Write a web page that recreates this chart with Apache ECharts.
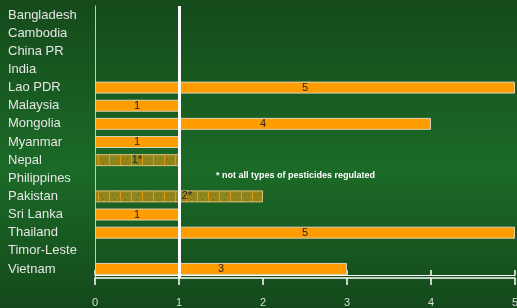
<!DOCTYPE html>
<html>
<head>
<meta charset="utf-8">
<script src="https://cdn.jsdelivr.net/npm/echarts@6/dist/echarts.min.js"></script>
<style>
html, body { margin: 0; padding: 0; }
#chart1 { width: 517px; height: 308px; }
</style>
</head>
<body>
<div id="chart1"></div>
<script>
var countries = ['Bangladesh', 'Cambodia', 'China PR', 'India', 'Lao PDR', 'Malaysia', 'Mongolia',
    'Myanmar', 'Nepal', 'Philippines', 'Pakistan', 'Sri Lanka', 'Thailand', 'Timor-Leste', 'Vietnam'];
// 全部类型农药受管制
var fullValues = [null, null, null, null, 5, 1, 4, 1, null, null, null, 1, 5, null, 3];
// 部分类型农药受管制 (*)
var partValues = [null, null, null, null, null, null, null, null, 1, null, 2, null, null, null, null];
var xTicks = [0, 1, 2, 3, 4, 5];
var noteText = '* not all types of pesticides regulated';

// 斜纹填充图案
function makePattern() {
    var c = document.createElement('canvas');
    c.width = 11; c.height = 12;
    var ctx = c.getContext('2d');
    ctx.fillStyle = '#94861c';
    ctx.fillRect(0, 0, 11, 12);
    ctx.fillStyle = '#e09812';
    ctx.fillRect(10, 0, 1, 12);
    ctx.fillStyle = '#3f7a2a';
    ctx.fillRect(2, 3, 1, 1);
    ctx.fillRect(6, 2, 1, 1);
    ctx.fillRect(4, 7, 1, 1);
    ctx.fillRect(8, 9, 1, 1);
    ctx.fillRect(1, 10, 1, 1);
    return c;
}

var labelText = function (suffix) {
    return function (p) { return p.value == null ? '' : p.value + suffix; };
};

var option = {
    backgroundColor: new echarts.graphic.LinearGradient(0, 0, 0, 1, [
        { offset: 0, color: '#154a1b' },
        { offset: 0.55, color: '#1b6a27' },
        { offset: 1, color: '#14491b' }
    ]),
    animation: false,
    grid: { left: 95, right: 2, top: 6, bottom: 30, outerBoundsMode: 'none', containLabel: false },
    graphic: [{
        type: 'text',
        left: 216,
        top: 171,
        style: {
            text: noteText,
            fill: '#ffffff',
            font: 'bold 9px "Liberation Sans", Arial, sans-serif'
        }
    }],
    xAxis: [{
        type: 'value',
        min: xTicks[0],
        max: xTicks[xTicks.length - 1],
        interval: 1,
        axisLine: { show: true, lineStyle: { color: '#ffffff', width: 1.5 } },
        axisTick: { show: true, length: 7, lineStyle: { color: '#ffffff', width: 1.5 } },
        axisLabel: { color: '#dddddd', fontSize: 11, margin: 19, fontFamily: 'Liberation Sans' },
        splitLine: { show: false }
    }, {
        type: 'value',
        position: 'bottom',
        min: xTicks[0],
        max: xTicks[xTicks.length - 1],
        interval: 1,
        offset: -3,
        axisLine: { show: true, lineStyle: { color: '#ffffff', width: 1 } },
        axisTick: { show: true, inside: true, length: 5, lineStyle: { color: '#ffffff', width: 1.5 } },
        axisLabel: { show: false },
        splitLine: { show: false }
    }],
    yAxis: {
        type: 'category',
        inverse: true,
        data: countries,
        axisLine: { show: true, lineStyle: { color: '#c8c8c8', width: 1 } },
        axisTick: { show: false },
        axisLabel: {
            color: '#e6e6e6',
            fontSize: 13,
            fontFamily: 'Liberation Sans',
            align: 'left',
            margin: 87
        }
    },
    series: [{
        type: 'bar',
        data: fullValues,
        barWidth: 12,
        itemStyle: { color: '#ff9c00', borderColor: '#d9d2b8', borderWidth: 1 },
        label: {
            show: true,
            position: 'inside',
            color: '#222',
            fontSize: 11,
            fontFamily: 'Liberation Sans',
            formatter: labelText('')
        },
        markLine: {
            silent: true,
            symbol: 'none',
            label: { show: false },
            lineStyle: { color: '#ffffff', width: 3, type: 'solid' },
            data: [{ xAxis: 1 }]
        },
        z: 2
    }, {
        type: 'bar',
        data: partValues,
        barWidth: 12,
        barGap: '-100%',
        itemStyle: {
            color: { image: makePattern(), repeat: 'repeat' },
            borderColor: '#d9c27a',
            borderWidth: 1
        },
        label: {
            show: true,
            position: 'inside',
            color: '#222',
            fontSize: 11,
            fontFamily: 'Liberation Sans',
            formatter: labelText('*')
        },
        z: 2
    }]
};

// 巴基斯坦标签右移，避开白线
option.series[1].data = partValues.map(function (v, i) {
    if (v === 2) return { value: v, label: { offset: [8, 0] } };
    return v;
});

var myChart = echarts.init(document.getElementById('chart1'));
myChart.setOption(option);
</script>
</body>
</html>
